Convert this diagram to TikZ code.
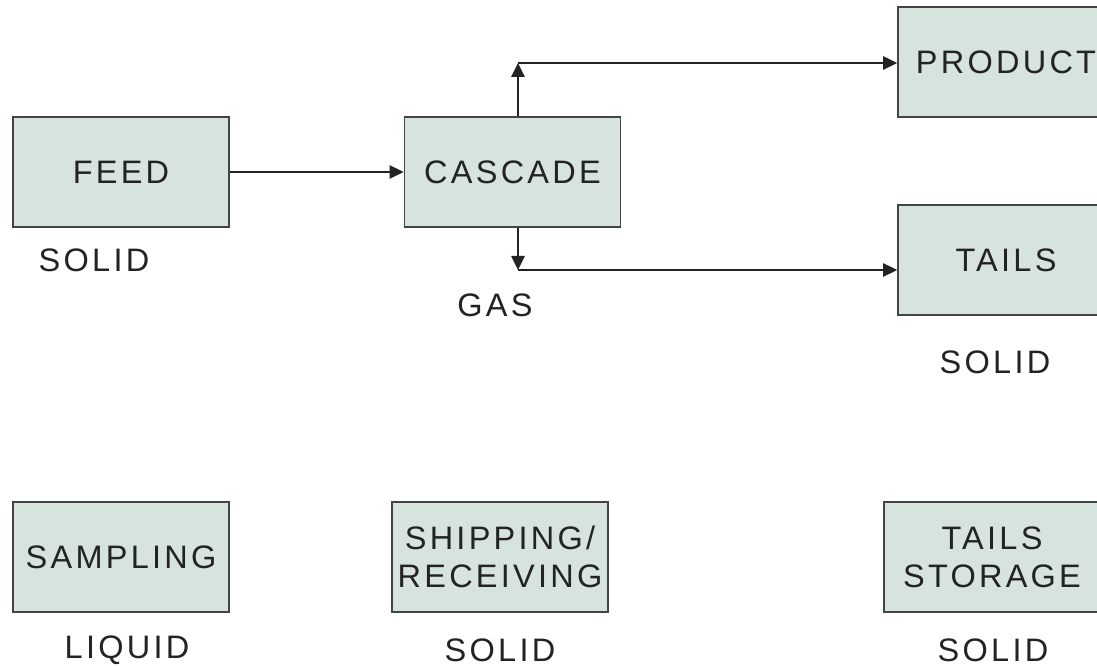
\documentclass[tikz,border=0pt]{standalone}
\usepackage{fontspec}
\setmainfont[LetterSpace=10]{Liberation Sans}
\usetikzlibrary{arrows.meta}
\definecolor{boxfill}{RGB}{215,228,222}
\definecolor{ink}{RGB}{35,35,35}
\begin{document}
\begin{tikzpicture}[x=1pt, y=-1pt,
  every node/.style={font=\fontsize{32.5}{38}\selectfont, text=ink},
  box/.style={draw=ink!85, line width=1.6pt, fill=boxfill, minimum width=216pt, minimum height=110pt, align=center, inner sep=0pt},
  flow/.style={draw=ink, line width=2.6pt, -{Triangle[length=14pt,width=13pt]}}]
\useasboundingbox (0,0) rectangle (1097,668);
\foreach \x/\y/\nm/\txt in {121/172/feed/FEED,512.5/172/cascade/CASCADE,1006/62/product/PRODUCT,1006/260/tails/TAILS,121/557/sampling/SAMPLING,500/557/shipping/{SHIPPING/\\RECEIVING},992/557/storage/{TAILS\\STORAGE}}
  \node[box] (\nm) at (\x,\y) {\txt};
\foreach \x/\y/\nm/\txt in {94/260/lfeed/SOLID,495/305/lcascade/GAS,995/362/ltails/SOLID,127/650/lsampling/LIQUID,500/650/lshipping/SOLID,993/650/lstorage/SOLID}
  \node (\nm) at (\x,\y) {\txt};
\coordinate (up) at (518,63); \coordinate (down) at (518,270);
\draw[flow] (feed) -- (cascade);
\draw[flow] (cascade.north -| up) -- (up);
\draw[flow] (up) -- (product.west |- up);
\draw[flow] (cascade.south -| down) -- (down);
\draw[flow] (down) -- (tails.west |- down);
\end{tikzpicture}
\end{document}
